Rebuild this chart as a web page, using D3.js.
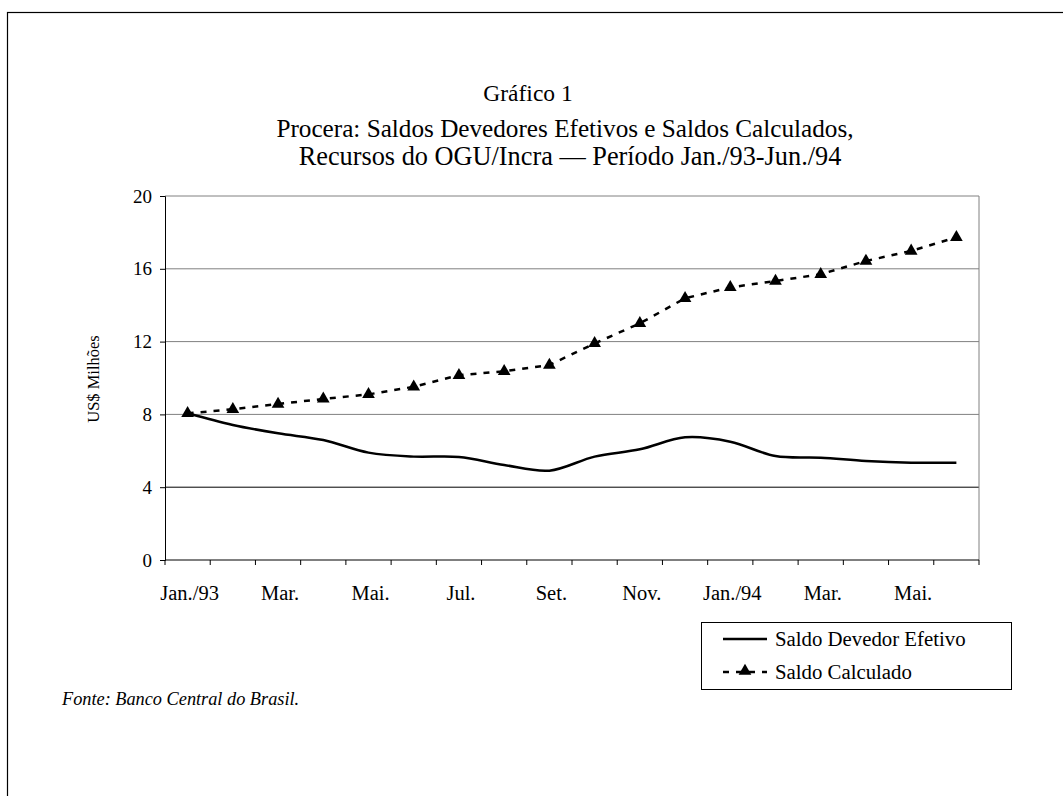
<!DOCTYPE html>
<html><head><meta charset="utf-8">
<script src="https://cdn.jsdelivr.net/npm/d3@7/dist/d3.min.js"></script>
<style>body{margin:0;background:#fff}svg{display:block;font-family:"Liberation Serif","Times New Roman",serif}</style>
</head><body><svg id="c" width="1063" height="796"></svg>
<script>
const months = ["Jan./93","Fev.","Mar.","Abr.","Mai.","Jun.","Jul.","Ago.","Set.","Out.","Nov.","Dez.","Jan./94","Fev.","Mar.","Abr.","Mai.","Jun."];
const tickLabelMonths = ["Jan./93","Mar.","Mai.","Jul.","Set.","Nov.","Jan./94","Mar.","Mai."];
const saldoDevedor = [8.06,7.42,6.96,6.59,5.90,5.68,5.66,5.22,4.91,5.68,6.08,6.74,6.50,5.71,5.62,5.44,5.35,5.35];
const saldoCalculado = [8.06,8.28,8.57,8.85,9.10,9.52,10.15,10.37,10.71,11.90,13.00,14.38,14.98,15.33,15.70,16.43,16.98,17.73];
const yTicks = [0,4,8,12,16,20];

const svg = d3.select("#c");
const L=165,R=979,T=196,B=560;
const idx = d3.range(months.length);
const x = d3.scaleBand().domain(idx).range([L,R]).padding(0);
const xc = i => x(i)+x.bandwidth()/2;
const y = d3.scaleLinear().domain([0,20]).range([B,T]);

// outer frame
svg.append("rect").attr("x",7.5).attr("y",12.5).attr("width",1100).attr("height",900)
  .attr("fill","none").attr("stroke","#000").attr("stroke-width",1.2);

// gridlines
svg.append("g").selectAll("line").data(yTicks.filter(d=>d>0)).join("line")
  .attr("x1",L).attr("x2",R).attr("y1",d=>y(d)).attr("y2",d=>y(d))
  .attr("stroke",d=>d===4?"#000":"#808080").attr("stroke-width",1);
svg.append("line").attr("x1",R).attr("x2",R).attr("y1",T).attr("y2",B).attr("stroke","#808080");

// y axis
const ya = svg.append("g").attr("transform",`translate(${L},0)`)
  .call(d3.axisLeft(y).tickValues(yTicks).tickSize(5).tickPadding(8).tickFormat(d3.format("d")));
ya.select(".domain").attr("stroke","#000");
ya.selectAll("text").attr("font-size",19).attr("font-family","Liberation Serif").attr("fill","#000");

// x axis with ticks at band boundaries
const bounds = d3.range(months.length+1).map(i=> i<months.length? x(i) : R);
const xg = svg.append("g");
xg.append("line").attr("x1",L).attr("x2",R).attr("y1",B).attr("y2",B).attr("stroke","#000");
xg.selectAll("line.t").data(bounds).join("line").attr("class","t")
  .attr("x1",d=>d).attr("x2",d=>d).attr("y1",B).attr("y2",B+5).attr("stroke","#000");
xg.selectAll("text").data(idx.filter(i=>i%2===0)).join("text")
  .attr("x",i=>xc(i)+2).attr("y",B+40).attr("text-anchor","middle")
  .attr("font-size",20.5).text((i,k)=>tickLabelMonths[k]);

// lines
const lineSmooth = d3.line().x((d,i)=>xc(i)).y(d=>y(d)).curve(d3.curveCatmullRom.alpha(0.5));
svg.append("path").datum(saldoDevedor).attr("d",lineSmooth)
  .attr("fill","none").attr("stroke","#000").attr("stroke-width",2.5);
const lineStraight = d3.line().x((d,i)=>xc(i)).y(d=>y(d));
svg.append("path").datum(saldoCalculado).attr("d",lineStraight)
  .attr("fill","none").attr("stroke","#000").attr("stroke-width",2.5).attr("stroke-dasharray","6,7");
const tri = d3.symbol().type(d3.symbolTriangle).size(70);
svg.append("g").selectAll("path").data(saldoCalculado).join("path")
  .attr("transform",(d,i)=>`translate(${xc(i)},${y(d)})`).attr("d",tri).attr("fill","#000");

// titles
const t = svg.append("g").attr("text-anchor","middle");
t.append("text").attr("x",528).attr("y",101).attr("font-size",23.5).text("Gráfico 1");
t.append("text").attr("x",565).attr("y",137).attr("font-size",25.2).text("Procera: Saldos Devedores Efetivos e Saldos Calculados,");
t.append("text").attr("x",570).attr("y",165).attr("font-size",26.3).text("Recursos do OGU/Incra — Período Jan./93-Jun./94");

// y label
svg.append("text").attr("transform","translate(99,379) rotate(-90)").attr("text-anchor","middle")
  .attr("font-size",16.5).text("US$ Milhões");

// legend
const lg = svg.append("g");
lg.append("rect").attr("x",701.5).attr("y",622.5).attr("width",310).attr("height",67)
  .attr("fill","#fff").attr("stroke","#000");
lg.append("line").attr("x1",723).attr("x2",767).attr("y1",639).attr("y2",639).attr("stroke","#000").attr("stroke-width",2.5);
lg.append("text").attr("x",775).attr("y",646).attr("font-size",20.8).text("Saldo Devedor Efetivo");
lg.append("line").attr("x1",723).attr("x2",767).attr("y1",672).attr("y2",672).attr("stroke","#000").attr("stroke-width",2.5).attr("stroke-dasharray","6,7");
lg.append("path").attr("transform","translate(745,671)").attr("d",tri).attr("fill","#000");
lg.append("text").attr("x",775).attr("y",679).attr("font-size",20.8).text("Saldo Calculado");

// footnote
svg.append("text").attr("x",62).attr("y",705).attr("font-size",18.3).attr("font-style","italic")
  .text("Fonte: Banco Central do Brasil.");
</script></body></html>
